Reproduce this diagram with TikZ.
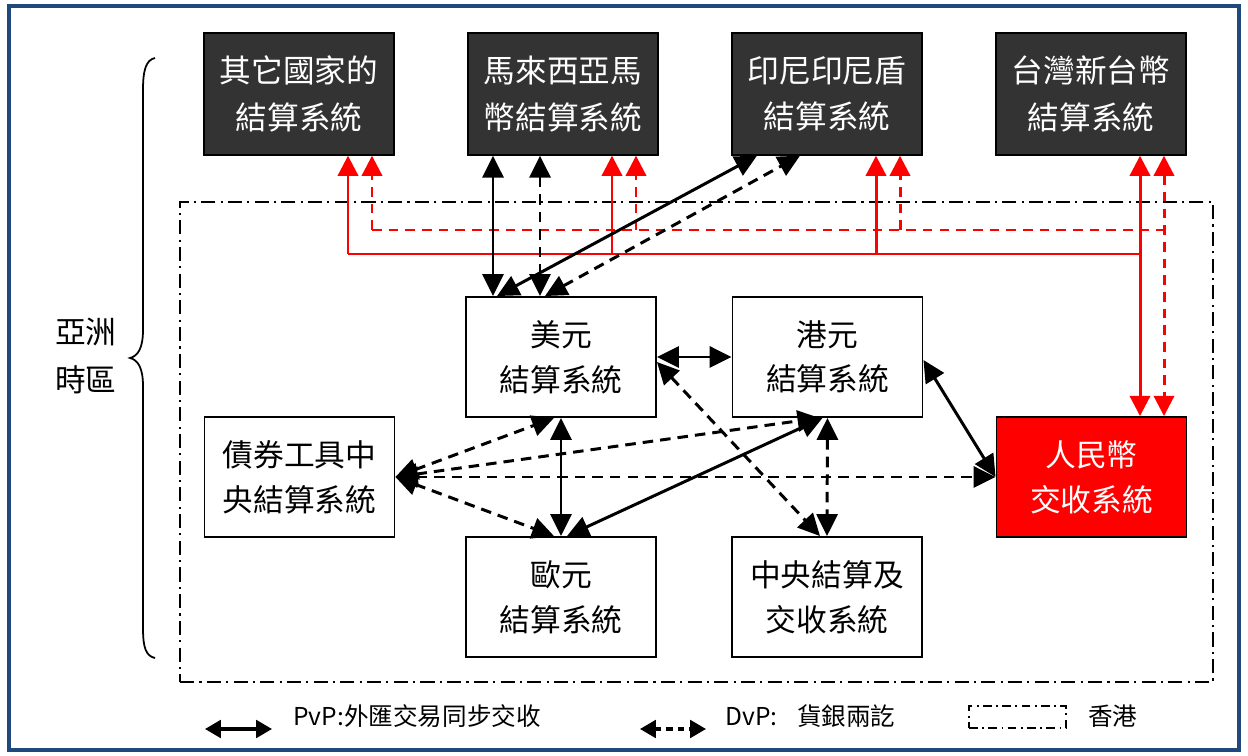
\documentclass[tikz,border=0pt]{standalone}
\usepackage{fontspec}
\setmainfont{Noto Sans CJK TC}
\usetikzlibrary{arrows.meta,calc}
\definecolor{frameblue}{HTML}{1F497D}
\definecolor{boxdark}{HTML}{333333}
\begin{document}
\begin{tikzpicture}[x=0.02cm,y=-0.02cm,
  topbox/.style={draw=black, line width=0.8pt, fill=boxdark, text=white, minimum width=3.8cm, minimum height=2.44cm, align=center, font=\fontsize{18}{26.5}\selectfont, inner sep=0pt},
  midbox/.style={draw=black, line width=1.1pt, fill=white, text=black, minimum width=3.8cm, minimum height=2.4cm, align=center, font=\fontsize{17.5}{25.5}\selectfont, inner sep=0pt},
  redbox/.style={midbox, fill=red, text=white},
  hkregion/.style={draw=black, line width=1.1pt, dash pattern=on 8pt off 3pt on 1.2pt off 3pt},
  pvp/.style={line width=1.7pt, {Triangle[length=12.5pt,width=12pt]}-{Triangle[length=12.5pt,width=12pt]}},
  dvp/.style={pvp, dash pattern=on 6pt off 4pt},
  redsolid/.style={draw=red, line width=1.7pt},
  reddash/.style={redsolid, dash pattern=on 5.5pt off 4pt},
  redtip/.style={-{Triangle[length=11.5pt,width=11.5pt]}},
  redtips/.style={{Triangle[length=11.5pt,width=11.5pt]}-{Triangle[length=11.5pt,width=11.5pt]}},
  legtext/.style={anchor=west, font=\fontsize{14}{16}\selectfont, inner sep=0pt},
]
\useasboundingbox (0,0) rectangle (1248,756);
\fill[white] (0,0) rectangle (1248,756);
\draw[frameblue, line width=2.8pt] (9,6) rectangle (1239,750);

% Hong Kong region
\node[hkregion, minimum width=20.66cm, minimum height=9.6cm, inner sep=0pt] (hk) at (696.5,442) {};

% brace and label
\draw[line width=1pt] (155,58) .. controls (146,60) and (143,70) .. (143,90) -- (143,330)
  .. controls (143,348) and (138,356) .. (130,358)
  .. controls (138,360) and (143,368) .. (143,386) -- (143,628)
  .. controls (143,648) and (146,656) .. (155,658);
\node[align=center, font=\fontsize{17.5}{27}\selectfont, inner sep=0pt] (asia) at (86,356) {亞洲\\時區};

% top boxes
\node[topbox] (other) at (299,94) {其它國家的\\結算系統};
\node[topbox] (mys) at (563,94) {馬來西亞馬\\幣結算系統};
\node[topbox] (idn) at (827,94) {印尼印尼盾\\結算系統};
\node[topbox] (twn) at (1091,94) {台灣新台幣\\結算系統};

% middle boxes
\node[midbox] (usd) at (561,357) {美元\\結算系統};
\node[midbox] (hkd) at (827.5,357) {港元\\結算系統};
\node[midbox] (bond) at (299.5,477) {債券工具中\\央結算系統};
\node[redbox] (rmb) at (1091.5,477) {人民幣\\交收系統};
\node[midbox] (eur) at (561,597) {歐元\\結算系統};
\node[midbox] (ccass) at (827,597) {中央結算及\\交收系統};

% red connectors
\coordinate (rbus) at (0,254);
\coordinate (rdbus) at (0,230);
\coordinate (o1) at ($(other.south)+(49,0)$);
\coordinate (o2) at ($(other.south)+(73,0)$);
\coordinate (m1) at ($(mys.south)+(49,0)$);
\coordinate (m2) at ($(mys.south)+(73,0)$);
\coordinate (i1) at ($(idn.south)+(49,0)$);
\coordinate (i2) at ($(idn.south)+(73,0)$);
\coordinate (t1) at ($(twn.south)+(49,0)$);
\coordinate (t2) at ($(twn.south)+(73,0)$);

\draw[reddash] (o2 |- rdbus) -- (t2 |- rdbus);
\draw[reddash, redtip] (o2 |- rdbus) -- (o2);
\draw[reddash, redtip] (m2 |- rdbus) -- (m2);
\draw[reddash, redtip] (i2 |- rdbus) -- (i2);
\draw[reddash, redtips] (t2) -- (t2 |- rmb.north);

\draw[redsolid] (o1 |- rbus) -- (t1 |- rbus);
\draw[redsolid, redtip] (o1 |- rbus) -- (o1);
\draw[redsolid, redtip] (m1 |- rbus) -- (m1);
\draw[redsolid, redtip] (i1 |- rbus) -- (i1);
\draw[redsolid, redtips] (t1) -- (t1 |- rmb.north);

% black connectors
\coordinate (ua) at ($(usd.north)+(-68,0)$);
\coordinate (ub) at ($(usd.north)+(-21,0)$);
\draw[pvp] (ua) -- (ua |- mys.south);
\draw[dvp] (ub) -- (ub |- mys.south);
\draw[pvp] ($(usd.north)+(-64,0)$) -- ($(idn.south)+(-70,0)$);
\draw[dvp] ($(usd.north)+(-16,0)$) -- ($(idn.south)+(-27,0)$);
\draw[pvp] (usd.east) -- (hkd.west);
\draw[dvp] ($(usd.east)+(0,5)$) -- ($(ccass.north)+(-7,0)$);
\draw[pvp] (usd.south) -- (eur.north);
\draw[pvp] ($(hkd.south)+(-5,0)$) -- ($(eur.north)+(6,0)$);
\draw[dvp] (hkd.south) -- (ccass.north);
\draw[pvp] ($(hkd.east)+(0,3)$) -- (rmb.west);
\draw[dvp] (bond.east) -- (rmb.west);
\draw[dvp] (bond.east) -- ($(usd.south)+(-7,0)$);
\draw[dvp] (bond.east) -- ($(hkd.south)+(-8,0)$);
\draw[dvp] (bond.east) -- ($(eur.north)+(-7,0)$);

% legend
\coordinate (lp1) at (205,729);
\coordinate (lp2) at (272,729);
\coordinate (ld1) at (640,729);
\coordinate (ld2) at (706,729);
\draw[line width=1.8pt, {Triangle[length=9pt,width=10pt]}-{Triangle[length=9pt,width=10pt]}] (lp1) -- (lp2);
\draw[line width=1.8pt, dash pattern=on 3.5pt off 3pt, {Triangle[length=9pt,width=10pt]}-{Triangle[length=9pt,width=10pt]}] (ld1) -- (ld2);
\node[legtext] (lpt) at (293,716) {PvP:外匯交易同步交收};
\node[legtext] (ldt) at (725,716) {DvP:\hspace{0.8em}貨銀兩訖};
\node[draw=black, line width=0.9pt, dash pattern=on 5pt off 2.5pt on 1pt off 2.5pt, minimum width=1.94cm, minimum height=0.44cm, inner sep=0pt] (lhk) at (1017.5,717) {};
\node[legtext] (lhkt) at (1088,716) {香港};
\end{tikzpicture}
\end{document}
